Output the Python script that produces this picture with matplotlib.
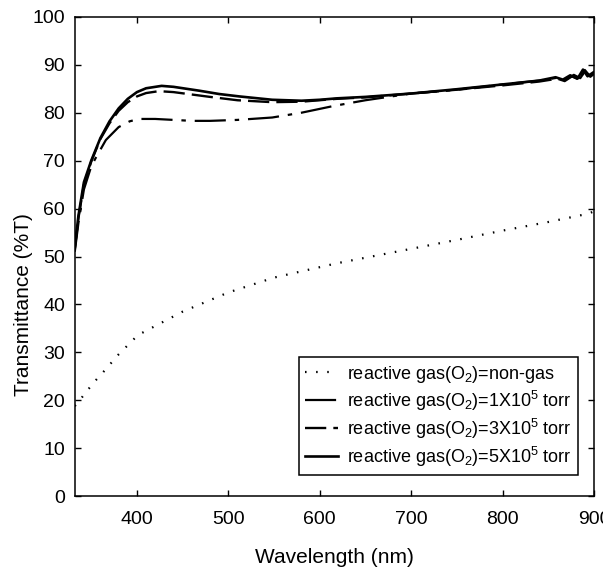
import numpy as np
import matplotlib
matplotlib.use("Agg")
import matplotlib.pyplot as plt

plt.rcParams['font.family'] = ['Liberation Sans', 'DejaVu Sans']
plt.rcParams['mathtext.fontset'] = 'custom'
plt.rcParams['mathtext.rm'] = 'Liberation Sans'

# wavelength (nm) / transmittance (%T)
wl_0 = [332, 335, 345, 356, 367, 378, 401, 450, 500, 550, 619, 700, 756, 800, 850, 893, 900]
t_0 = [18.8, 19.4, 21.9, 24.4, 26.7, 29.2, 33.6, 38.5, 42.5, 45.6, 48.6, 51.6, 53.7, 55.4, 57.2, 58.9, 59.4]

wl_1 = [332, 336, 342, 350, 355, 366, 380, 392, 402, 420, 440, 460, 480, 510, 548, 580, 600, 615, 650,
        700, 750, 800, 840, 860, 870, 878, 885, 890, 895, 900]
t_1 = [51.0, 57.0, 64.0, 68.8, 70.6, 74.3, 77.0, 78.2, 78.7, 78.7, 78.5, 78.3, 78.3, 78.5, 79.0, 80.0,
       80.8, 81.4, 82.6, 84.0, 84.8, 85.9, 86.7, 87.3, 87.0, 87.9, 87.2, 88.6, 87.8, 88.4]

wl_3 = [332, 336, 342, 350, 360, 370, 380, 390, 400, 410, 424, 440, 460, 480, 510, 548, 580, 619, 650,
        700, 750, 800, 840, 860, 868, 876, 884, 890, 896, 900]
t_3 = [51.5, 58.0, 65.0, 69.8, 74.5, 77.8, 80.4, 82.2, 83.4, 84.1, 84.5, 84.3, 83.8, 83.3, 82.6, 82.2,
       82.3, 82.9, 83.2, 84.0, 84.8, 85.7, 86.5, 87.1, 86.6, 87.6, 86.9, 88.9, 87.5, 88.1]

wl_5 = [332, 336, 342, 350, 360, 370, 380, 390, 400, 410, 427, 440, 468, 490, 512, 548, 580, 600, 619,
        650, 700, 750, 800, 840, 858, 866, 874, 882, 888, 893, 900]
t_5 = [52.0, 58.5, 65.5, 70.0, 74.7, 78.2, 80.9, 82.9, 84.3, 85.1, 85.6, 85.4, 84.6, 83.9, 83.4, 82.7,
       82.5, 82.7, 83.0, 83.3, 84.0, 84.9, 85.9, 86.7, 87.4, 86.9, 87.8, 87.1, 89.0, 87.6, 88.5]

labels = ['reactive gas(O$_2$)=non-gas',
          'reactive gas(O$_2$)=1X10$^{5}$ torr',
          'reactive gas(O$_2$)=3X10$^{5}$ torr',
          'reactive gas(O$_2$)=5X10$^{5}$ torr']

fig = plt.figure(figsize=(6.03, 5.81), dpi=100)
ax = fig.add_axes([0.124, 0.146, 0.861, 0.825])

ax.plot(wl_0, t_0, color='k', lw=1.6, linestyle=(0, (0.7, 4.3)), label=labels[0])
ax.plot(wl_1, t_1, color='k', lw=1.6, linestyle=(0, (14, 4, 2, 4)), label=labels[1])
ax.plot(wl_3, t_3, color='k', lw=1.7, linestyle=(0, (9, 3)), label=labels[2])
ax.plot(wl_5, t_5, color='k', lw=1.9, label=labels[3])

ax.set_xlim(332, 900)
ax.set_ylim(0, 100)
ax.set_xticks([400, 500, 600, 700, 800, 900])
ax.set_yticks(np.arange(0, 101, 10))
ax.tick_params(direction='in', length=4, width=1, top=True, right=True,
               labelsize=14, colors='k')
ax.tick_params(axis='x', pad=11)
ax.tick_params(axis='y', pad=7)
for s in ax.spines.values():
    s.set_linewidth(1.1)

ax.set_xlabel('Wavelength (nm)', fontsize=15, labelpad=14)
ax.set_ylabel('Transmittance (%T)', fontsize=15)
ax.yaxis.set_label_coords(-0.08, 0.40)

leg = ax.legend(loc='lower right', bbox_to_anchor=(0.969, 0.044), borderaxespad=0,
                fontsize=13, fancybox=False, edgecolor='k', framealpha=1,
                handlelength=1.8, handletextpad=0.5, borderpad=0.35, labelspacing=0.22)
leg.get_frame().set_linewidth(1.1)

fig.savefig('out.png', dpi=100)
